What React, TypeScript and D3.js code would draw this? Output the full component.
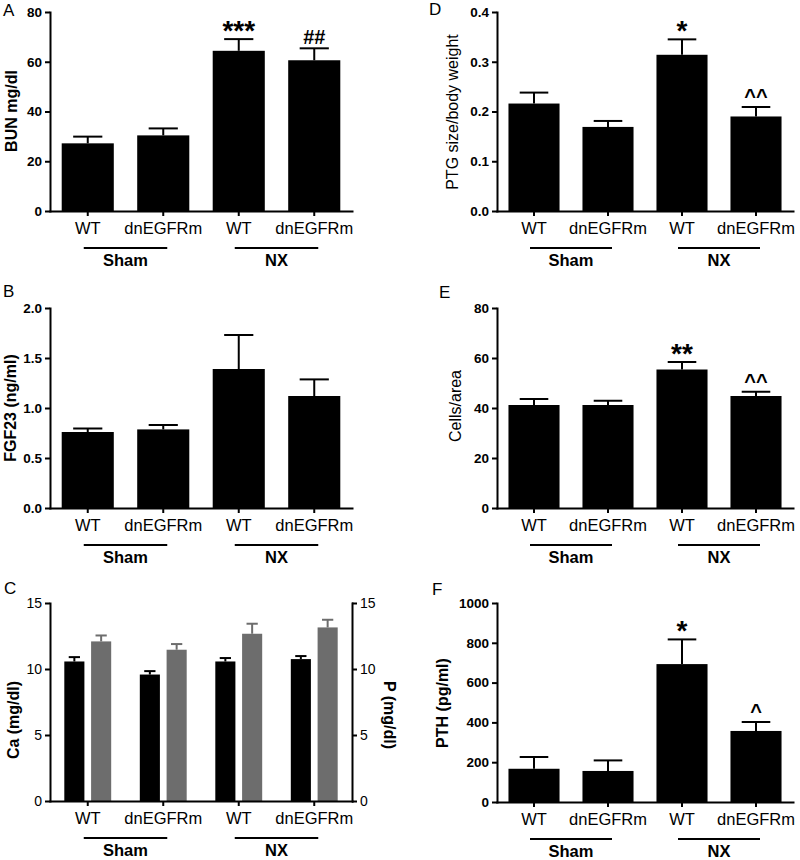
import React, { useRef, useEffect } from "react";
import * as d3 from "d3";

// ---------- data ----------
const categories = ["WT", "dnEGFRm", "WT", "dnEGFRm"];
const groupLabels = ["Sham", "NX"];
const groupSpans = [[0, 1], [2, 3]];

const bunMean = [27.2, 30.4, 64.4, 60.6];
const bunSem = [2.7, 2.8, 4.7, 4.8];
const bunMarks = ["", "", "***", "##"];
const bunTicks = [0, 20, 40, 60, 80];

const fgfMean = [0.76, 0.786, 1.39, 1.12];
const fgfSem = [0.035, 0.044, 0.34, 0.166];
const fgfMarks = ["", "", "", ""];
const fgfTicks = [0, 0.5, 1.0, 1.5, 2.0];

const caMean = [10.57, 9.58, 10.57, 10.75];
const caSem = [0.33, 0.26, 0.26, 0.23];
const pMean = [12.09, 11.46, 12.67, 13.15];
const pSem = [0.45, 0.43, 0.76, 0.58];
const caTicks = [0, 5, 10, 15];

const ptgMean = [0.216, 0.169, 0.314, 0.19];
const ptgSem = [0.022, 0.012, 0.031, 0.019];
const ptgMarks = ["", "", "*", "^^"];
const ptgTicks = [0, 0.1, 0.2, 0.3, 0.4];

const cellMean = [41.2, 41.2, 55.4, 44.8];
const cellSem = [2.4, 1.7, 3.0, 1.7];
const cellMarks = ["", "", "**", "^^"];
const cellTicks = [0, 20, 40, 60, 80];

const pthMean = [167, 156, 693, 357];
const pthSem = [59, 53, 124, 45];
const pthMarks = ["", "", "*", "^"];
const pthTicks = [0, 200, 400, 600, 800, 1000];

const FONT = "'Liberation Sans', Arial, Helvetica, sans-serif";

type Series = { mean: number[]; sem: number[]; color: string };

function AxisG({ axis, transform, fontSize, fontWeight }: any) {
  const ref = useRef<SVGGElement>(null);
  useEffect(() => {
    const g = d3.select(ref.current as SVGGElement);
    g.call(axis);
    g.attr("font-family", null).attr("font-size", null);
    g.select(".domain").attr("stroke-width", 2).attr("stroke", "#000").attr("stroke-linecap", "square");
    g.selectAll(".tick line").attr("stroke-width", 2).attr("stroke", "#000");
    g.selectAll(".tick text")
      .attr("font-family", FONT)
      .attr("font-size", fontSize)
      .attr("font-weight", fontWeight)
      .attr("fill", "#000");
  });
  return <g ref={ref} transform={transform} />;
}

type PanelProps = {
  letter: string;
  letterX: number;
  letterY: number;
  x0: number;
  x1: number;
  yTop: number;
  yBot: number;
  max: number;
  ticks: number[];
  fmt: string;
  tickWeight: string;
  tickSize: number;
  label: string;
  labelX: number;
  labelY: number;
  labelWeight: string;
  series: Series[];
  marks?: string[];
  rightLabel?: string;
  rightLabelX?: number;
  rightLabelY?: number;
};

function Panel(p: PanelProps) {
  const idx = categories.map((_, i) => String(i));
  const x = d3.scaleBand().domain(idx).range([p.x0, p.x1]).paddingInner(0.31).paddingOuter(0.155);
  const y = d3.scaleLinear().domain([0, p.max]).range([p.yBot, p.yTop]);
  const bw = x.bandwidth();
  const sub = d3
    .scaleBand()
    .domain(p.series.map((_, i) => String(i)))
    .range(p.series.length > 1 ? [bw * 0.05, bw * 0.95] : [0, bw])
    .paddingInner(p.series.length > 1 ? 0.25 : 0);
  const sbw = sub.bandwidth();
  const capW = sbw * 0.56;
  const fmt = d3.format(p.fmt);

  const yAxis = d3.axisLeft(y).tickValues(p.ticks).tickSize(5).tickSizeOuter(0).tickPadding(3).tickFormat((d: any) => fmt(d));
  const yAxisR = d3.axisRight(y).tickValues(p.ticks).tickSize(5).tickSizeOuter(0).tickPadding(3).tickFormat((d: any) => fmt(d));
  const xAxis = d3
    .axisBottom(x)
    .tickSize(5)
    .tickSizeOuter(0)
    .tickPadding(6)
    .tickFormat((d: any) => categories[+d]);

  return (
    <g>
      <text x={p.letterX} y={p.letterY} fontFamily={FONT} fontSize={17}>
        {p.letter}
      </text>
      {p.series.map((s, si) =>
        s.mean.map((m, i) => {
          const bx = (x(String(i)) as number) + (sub(String(si)) as number);
          const cx = bx + sbw / 2;
          const top = y(m);
          const et = y(m + s.sem[i]);
          const mk = p.marks ? p.marks[i] : "";
          const isStar = mk.includes("*");
          return (
            <g key={`${si}-${i}`}>
              <rect x={bx} y={top} width={sbw} height={y(0) - top} fill={s.color} />
              <line x1={cx} x2={cx} y1={top} y2={et} stroke={s.color} strokeWidth={2} />
              <line x1={cx - capW / 2} x2={cx + capW / 2} y1={et} y2={et} stroke={s.color} strokeWidth={2} />
              {mk ? (
                <text
                  x={cx}
                  y={isStar ? et + 1 : et - 4}
                  textAnchor="middle"
                  fontFamily={FONT}
                  fontWeight="bold"
                  fontSize={isStar ? 28 : 20}
                >
                  {mk}
                </text>
              ) : null}
            </g>
          );
        })
      )}
      <AxisG axis={yAxis} transform={`translate(${p.x0},0)`} fontSize={p.tickSize} fontWeight={p.tickWeight} />
      {p.rightLabel ? (
        <AxisG axis={yAxisR} transform={`translate(${p.x1},0)`} fontSize={p.tickSize} fontWeight={p.tickWeight} />
      ) : null}
      <AxisG axis={xAxis} transform={`translate(0,${p.yBot})`} fontSize={16.5} fontWeight="normal" />
      {groupSpans.map((gs, gi) => {
        const a = (x(String(gs[0])) as number) + bw / 2 - 4;
        const b = (x(String(gs[1])) as number) + bw / 2 + 4;
        return (
          <g key={gi}>
            <line x1={a} x2={b} y1={p.yBot + 37} y2={p.yBot + 37} stroke="#000" strokeWidth={2} />
            <text x={(a + b) / 2} y={p.yBot + 55} textAnchor="middle" fontFamily={FONT} fontWeight="bold" fontSize={16.5}>
              {groupLabels[gi]}
            </text>
          </g>
        );
      })}
      <text
        transform={`translate(${p.labelX},${p.labelY}) rotate(-90)`}
        textAnchor="middle"
        dominantBaseline="central"
        fontFamily={FONT}
        fontWeight={p.labelWeight}
        fontSize={16}
      >
        {p.label}
      </text>
      {p.rightLabel ? (
        <text
          transform={`translate(${p.rightLabelX},${p.rightLabelY}) rotate(90)`}
          textAnchor="middle"
          dominantBaseline="central"
          fontFamily={FONT}
          fontWeight="bold"
          fontSize={16}
        >
          {p.rightLabel}
        </text>
      ) : null}
    </g>
  );
}

export default function App() {
  const L = { x0: 50, x1: 352 };
  const R = { x0: 497, x1: 793 };
  return (
    <svg width={800} height={860} style={{ position: "absolute", left: 0, top: 0, background: "#fff" }}>
      <rect width={800} height={860} fill="#fff" />
      <Panel
        letter="A" letterX={3} letterY={16} {...L} yTop={12} yBot={211} max={80} ticks={bunTicks} fmt="d"
        tickWeight="bold" tickSize={13.5} label="BUN mg/dl" labelX={11} labelY={111} labelWeight="bold"
        series={[{ mean: bunMean, sem: bunSem, color: "#000" }]} marks={bunMarks}
      />
      <Panel
        letter="B" letterX={3} letterY={297} {...L} yTop={308} yBot={508} max={2} ticks={fgfTicks} fmt=".1f"
        tickWeight="bold" tickSize={13.5} label="FGF23 (ng/ml)" labelX={10} labelY={408} labelWeight="bold"
        series={[{ mean: fgfMean, sem: fgfSem, color: "#000" }]} marks={fgfMarks}
      />
      <Panel
        letter="C" letterX={4} letterY={594} {...L} yTop={603} yBot={801} max={15} ticks={caTicks} fmt="d"
        tickWeight="normal" tickSize={14} label="Ca (mg/dl)" labelX={13} labelY={720} labelWeight="bold"
        series={[
          { mean: caMean, sem: caSem, color: "#000" },
          { mean: pMean, sem: pSem, color: "#6d6d6d" },
        ]}
        rightLabel="P (mg/dl)" rightLabelX={389} rightLabelY={715}
      />
      <Panel
        letter="D" letterX={429} letterY={15} {...R} yTop={12} yBot={211} max={0.4} ticks={ptgTicks} fmt=".1f"
        tickWeight="bold" tickSize={13.5} label="PTG size/body weight" labelX={452} labelY={112} labelWeight="normal"
        series={[{ mean: ptgMean, sem: ptgSem, color: "#000" }]} marks={ptgMarks}
      />
      <Panel
        letter="E" letterX={439} letterY={298} {...R} yTop={308} yBot={508} max={80} ticks={cellTicks} fmt="d"
        tickWeight="bold" tickSize={13.5} label="Cells/area" labelX={455} labelY={406} labelWeight="normal"
        series={[{ mean: cellMean, sem: cellSem, color: "#000" }]} marks={cellMarks}
      />
      <Panel
        letter="F" letterX={432} letterY={595} {...R} yTop={603} yBot={802} max={1000} ticks={pthTicks} fmt="d"
        tickWeight="bold" tickSize={13.5} label="PTH (pg/ml)" labelX={442} labelY={703} labelWeight="bold"
        series={[{ mean: pthMean, sem: pthSem, color: "#000" }]} marks={pthMarks}
      />
    </svg>
  );
}
